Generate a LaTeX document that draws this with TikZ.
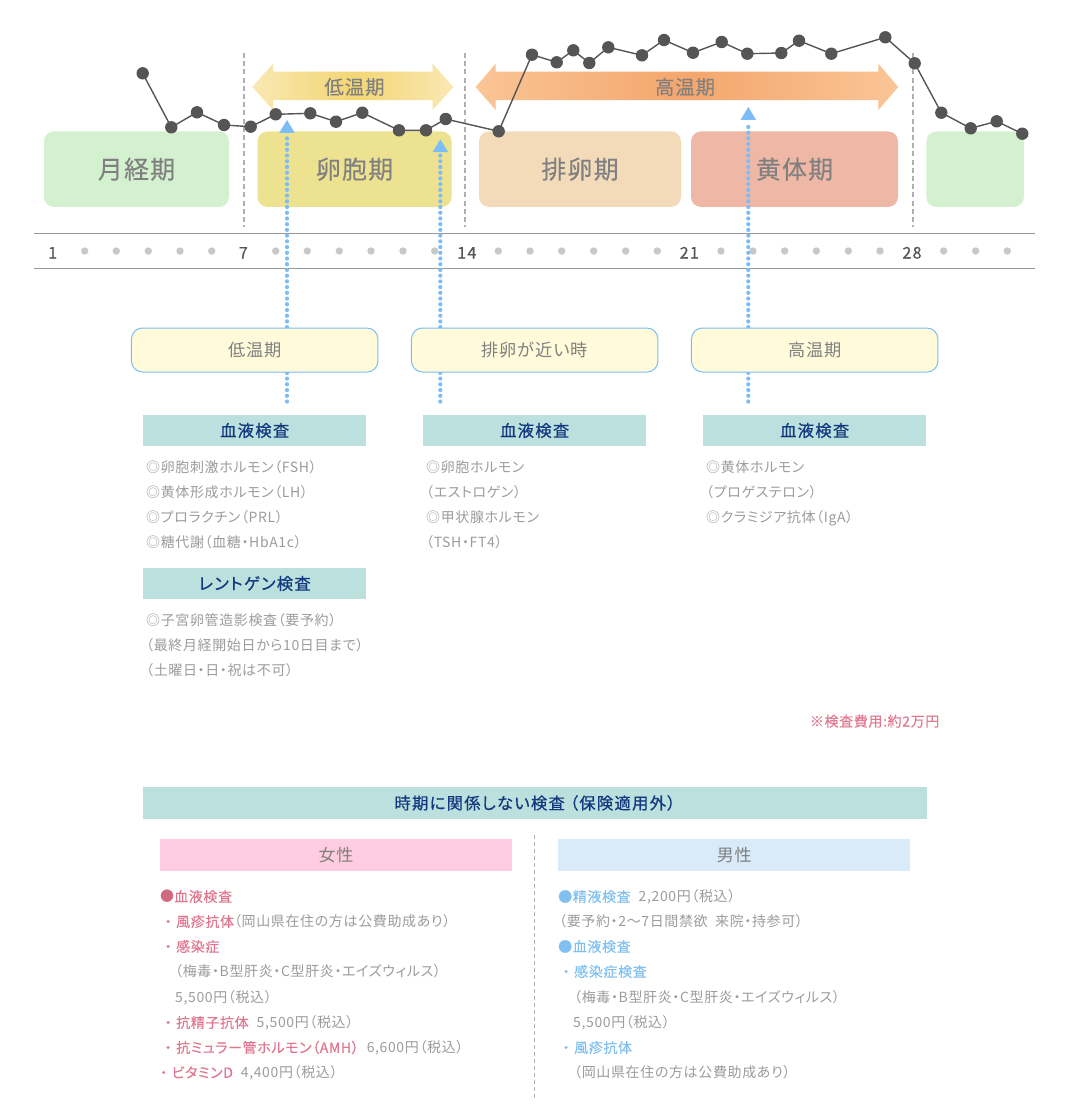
\documentclass[tikz,border=0pt]{standalone}
\usepackage{fontspec}
\setmainfont[RawFeature=+palt,LetterSpace=4.5]{Noto Sans CJK JP}
\newfontfamily\jpb[RawFeature=+palt,LetterSpace=8,FakeBold=0.7]{Noto Sans CJK JP}
\newfontfamily\jpm[RawFeature=+palt,LetterSpace=4.5,FakeBold=0.15]{Noto Sans CJK JP}
\usetikzlibrary{calc}
\definecolor{dotblue}{HTML}{7CBDF8}
\definecolor{linegray}{HTML}{555555}
\definecolor{tealbox}{HTML}{BCE0DD}
\definecolor{navytxt}{HTML}{12397F}
\definecolor{bodytxt}{HTML}{9C9C9C}
\definecolor{pinktxt}{HTML}{E0768F}
\definecolor{pinkdot}{HTML}{CF6A80}
\definecolor{bluetxt}{HTML}{7FC0F0}
\definecolor{labeltxt}{HTML}{808080}
\definecolor{cardfill}{HTML}{FFFBDA}
\definecolor{phA}{HTML}{D4F1CF}
\definecolor{phB}{HTML}{EDE28F}
\definecolor{phC}{HTML}{F3DBBA}
\definecolor{phD}{HTML}{EFB8A6}
\definecolor{lowA}{HTML}{F9E8B3}
\definecolor{lowB}{HTML}{F3D673}
\definecolor{highA}{HTML}{FAC596}
\definecolor{highB}{HTML}{F4A66D}
\definecolor{sexF}{HTML}{FFCDDF}
\definecolor{sexM}{HTML}{D9EAF8}
\definecolor{dotgray}{HTML}{C8C8C8}
\tikzset{
  phase/.style={rounded corners=10pt,inner sep=0,text=labeltxt,font=\jpm\fontsize{25}{25}\selectfont},
  card/.style={rounded corners=11pt,draw=dotblue,line width=1pt,fill=cardfill,inner sep=0,minimum width=246.5pt,minimum height=44pt,text=labeltxt,font=\fontsize{17.2}{17}\selectfont},
  head/.style={fill=tealbox,inner sep=0,minimum width=223.5pt,minimum height=31pt,text=navytxt,font=\jpb\fontsize{16.3}{16}\selectfont},
  txt/.style={anchor=base west,inner sep=0,text=bodytxt,font=\fontsize{14}{14}\selectfont},
  num/.style={anchor=base,inner sep=0,text=linegray,font=\jpb\fontsize{16}{16}\selectfont},
  bluedots/.style={dotblue,line width=4.2pt,line cap=round,dash pattern=on 0pt off 5.72pt},
  vdash/.style={draw=gray!62,line width=2pt,dash pattern=on 5pt off 3.2pt},
  axis/.style={draw=gray!80,line width=1pt},
  sex/.style={inner sep=0,minimum width=352pt,minimum height=32pt,text=labeltxt,font=\fontsize{17}{17}\selectfont},
  atxt/.style={inner sep=0,text=labeltxt,font=\jpm\fontsize{19.5}{20}\selectfont},
}
\newcommand{\pk}[1]{\textcolor{pinktxt}{\jpm #1}}
\newcommand{\bl}[1]{\textcolor{bluetxt}{\jpm #1}}
\newcommand{\bu}{\makebox[16pt][c]{・}}
\begin{document}
\begin{tikzpicture}[x=1pt,y=-1pt]
\useasboundingbox[fill=white] (0,0) rectangle (1070,1117);

% period dashed lines
\coordinate (d1a) at (243.6,53); \coordinate (d1b) at (243.6,227);
\coordinate (d2a) at (465,53);   \coordinate (d2b) at (465,227);
\coordinate (d3a) at (912.7,53); \coordinate (d3b) at (912.7,227);
\draw[vdash] (d1a) -- (d1b);
\draw[vdash] (d2a) -- (d2b);
\draw[vdash] (d3a) -- (d3b);

% phases
\node[phase,fill=phA,minimum width=185pt,minimum height=75.5pt] (m1) at (136.5,169.2) {\raisebox{-1pt}{月経期}};
\node[phase,fill=phB,minimum width=194pt,minimum height=75.5pt] (m2) at (354.5,169.2) {\raisebox{-1pt}{卵胞期}};
\node[phase,fill=phC,minimum width=202pt,minimum height=75.5pt] (m3) at (580,169.2) {\raisebox{-1pt}{排卵期}};
\node[phase,fill=phD,minimum width=207pt,minimum height=75.5pt] (m4) at (794.5,169.2) {\raisebox{-1pt}{黄体期}};
\node[phase,fill=phA,minimum width=97.5pt,minimum height=75.5pt] (m5) at (975.2,169.2) {};

% temperature arrows
\shade[left color=lowA,right color=lowA,middle color=lowB]
  (252.3,87) -- (273,63.7) -- (273,71.7) -- (432.7,71.7) -- (432.7,63.7) -- (453.3,87)
  -- (432.7,110) -- (432.7,100) -- (273,100) -- (273,110) -- cycle;
\shade[left color=highA,right color=highA,middle color=highB]
  (475.7,87) -- (495.7,63.7) -- (495.7,71.7) -- (878.3,71.7) -- (878.3,63.7) -- (898.3,87)
  -- (878.3,110) -- (878.3,100) -- (495.7,100) -- (495.7,110) -- cycle;
\node[atxt] (tlow) at (354.5,87) {低温期};
\node[atxt] (thigh) at (685,87) {高温期};

% axis
\coordinate (ax1a) at (34,233); \coordinate (ax1b) at (1035,233);
\coordinate (ax2a) at (34,268); \coordinate (ax2b) at (1035,268);
\draw[axis] (ax1a) -- (ax1b);
\draw[axis] (ax2a) -- (ax2b);
\foreach \x in {84.7,116.3,148.3,180,211.7,275.7,307.3,339.3,371,403,434.7,498.3,530,561.7,593.7,625.7,657.3,721,753,784.7,816.3,848.3,880,943.7,975.7,1007.3}
  \fill[dotgray] (\x,251) circle (3.7pt);
\node[num] (n1) at (52.7,258.5) {1};
\node[num] (n7) at (243.3,258.5) {7};
\node[num] (n14) at (466.8,258.5) {14};
\node[num] (n21) at (689.3,258.5) {21};
\node[num] (n28) at (912,258.5) {28};

% blue dotted connectors
\coordinate (b1a) at (287,135); \coordinate (b1b) at (287,401.5);
\coordinate (b2a) at (440.3,154); \coordinate (b2b) at (440.3,401.5);
\coordinate (b3a) at (748.3,122); \coordinate (b3b) at (748.3,401.5);
\draw[bluedots] (b1b) -- (b1a);
\draw[bluedots] (b2b) -- (b2a);
\draw[bluedots] (b3b) -- (b3a);
\fill[dotblue] (287,120) -- (294.7,132.8) -- (279.3,132.8) -- cycle;
\fill[dotblue] (440.3,139.3) -- (448,152) -- (432.6,152) -- cycle;
\fill[dotblue] (748.3,107) -- (756,119.8) -- (740.6,119.8) -- cycle;

% chart
\foreach \n/\x/\y in {1/142.7/73.3,2/171.3/127.3,3/197/112.3,4/224/125,5/250.7/126.7,6/275.7/114.3,7/310.3/113.3,8/336/121.7,9/362.3/112.7,10/399/130.3,11/426/130.3,12/445.7/119,13/498.7/131.3,14/532/54.7,15/556.7/62.3,16/573.3/50.3,17/589.3/63,18/608.3/47.3,19/642/55.3,20/664/40,21/693/52.7,22/721.7/42,23/747.3/53.7,24/781.3/53,25/799/40.7,26/831.3/53.7,27/885.3/37.3,28/914.7/63.3,29/941.3/112.7,30/970.7/128.3,31/996.7/121.3,32/1022.3/133.7}
  \coordinate (p\n) at (\x,\y);
\draw[linegray,line width=1.4pt] (p1)--(p2)--(p3)--(p4)--(p5)--(p6)--(p7)--(p8)--(p9)--(p10)--(p11)--(p12)--(p13)--(p14)--(p15)--(p16)--(p17)--(p18)--(p19)--(p20)--(p21)--(p22)--(p23)--(p24)--(p25)--(p26)--(p27)--(p28)--(p29)--(p30)--(p31)--(p32);
\foreach \n in {1,...,32} \fill[linegray] (p\n) circle (6.2pt);

% cards
\node[card] (c1) at (254.7,350) {低温期};
\node[card] (c2) at (534.7,350) {排卵が近い時};
\node[card] (c3) at (814.7,350) {高温期};

% test headers
\node[head] (h1) at (254.7,430.5) {血液検査};
\node[head] (h2) at (534.7,430.5) {血液検査};
\node[head] (h3) at (814.7,430.5) {血液検査};
\node[head] (h4) at (254.7,583.5) {レントゲン検査};

% column 1
\node[txt] (a1) at (146,472.8) {◎卵胞刺激ホルモン（FSH）};
\node[txt] (a2) at (146,497.8) {◎黄体形成ホルモン（LH）};
\node[txt] (a3) at (146,522.8) {◎プロラクチン（PRL）};
\node[txt] (a4) at (146,547.8) {◎糖代謝（血糖・HbA1c）};
\node[txt] (a5) at (146,625.8) {◎子宮卵管造影検査（要予約）};
\node[txt] (a6) at (146,650.8) {（最終月経開始日から10日目まで）};
\node[txt] (a7) at (146,675.8) {（土曜日・日・祝は不可）};
% column 2
\node[txt] (e1) at (426,472.8) {◎卵胞ホルモン};
\node[txt] (e2) at (426,497.8) {（エストロゲン）};
\node[txt] (e3) at (426,522.8) {◎甲状腺ホルモン};
\node[txt] (e4) at (426,547.8) {（TSH・FT4）};
% column 3
\node[txt] (f1) at (706,472.8) {◎黄体ホルモン};
\node[txt] (f2) at (706,497.8) {（プロゲステロン）};
\node[txt] (f3) at (706,522.8) {◎クラミジア抗体（IgA）};

\node[txt,anchor=base east,text=pinktxt,font=\jpm\fontsize{14}{14}\selectfont] (fee) at (939.5,726.5) {※検査費用:約2万円};

% bottom
\node[head,minimum width=784pt,minimum height=32pt] (bt) at (535,803) {時期に関係しない検査 （保険適用外）};
\coordinate (dva) at (534.5,835); \coordinate (dvb) at (534.5,1098);
\draw[draw=gray!60,line width=1pt,dash pattern=on 4pt off 3pt] (dva) -- (dvb);
\node[sex,fill=sexF] (sf) at (336,855) {\raisebox{-1pt}{女性}};
\node[sex,fill=sexM] (sm) at (734.3,855) {\raisebox{-1pt}{男性}};

% women
\node[txt] (w1) at (160,901.8) {\textcolor{pinkdot}{●}\pk{血液検査}};
\node[txt] (w2) at (160,926.8) {\pk{\bu 風疹抗体}（岡山県在住の方は公費助成あり）};
\node[txt] (w3) at (160,951.8) {\pk{\bu 感染症}};
\node[txt] (w4) at (175,976.8) {（梅毒・B型肝炎・C型肝炎・エイズウィルス）};
\node[txt] (w5) at (175,1002.8) {5,500円（税込）};
\node[txt] (w6) at (160,1027.8) {\pk{\bu 抗精子抗体}\hspace{8pt}5,500円（税込）};
\node[txt] (w7) at (160,1052.8) {\pk{\bu 抗ミュラー管ホルモン（AMH）}\hspace{8pt}6,600円（税込）};
\node[txt] (w8) at (155.5,1077.8) {\pk{\bu ビタミンD}\hspace{8pt}4,400円（税込）};

% men
\node[txt] (u1) at (558,901.8) {\bl{●精液検査}\hspace{8pt}2,200円（税込）};
\node[txt] (u2) at (559,926.8) {（要予約・2〜7日間禁欲 \ 来院・持参可）};
\node[txt] (u3) at (558,951.8) {\bl{●血液検査}};
\node[txt] (u4) at (558,976.8) {\bl{\bu 感染症検査}};
\node[txt] (u5) at (574,1002.8) {（梅毒・B型肝炎・C型肝炎・エイズウィルス）};
\node[txt] (u6) at (573,1027.8) {5,500円（税込）};
\node[txt] (u7) at (558,1052.8) {\bl{\bu 風疹抗体}};
\node[txt] (u8) at (574,1077.8) {（岡山県在住の方は公費助成あり）};
\end{tikzpicture}
\end{document}
